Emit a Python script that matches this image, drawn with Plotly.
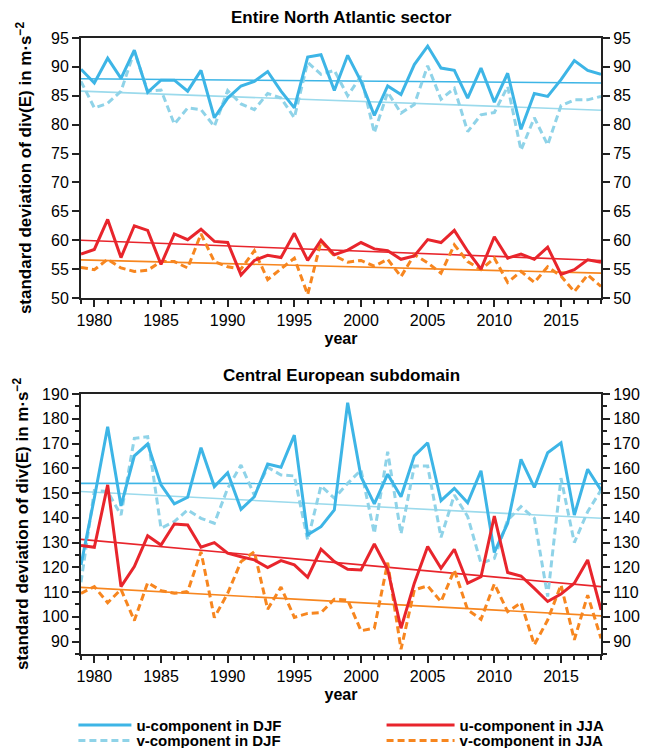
import plotly.graph_objects as go

# ---------------- data ----------------
years = list(range(1979, 2019))
x_ticks = [1980, 1985, 1990, 1995, 2000, 2005, 2010, 2015]

# Entire North Atlantic sector
na_u_djf = [89.6, 87.2, 91.5, 88.0, 92.9, 85.6, 87.7, 87.7, 85.8, 89.4, 81.2, 84.6, 86.7, 87.5,
            89.2, 85.8, 82.9, 91.7, 92.1, 85.9, 92.0, 87.5, 81.6, 86.7, 85.2, 90.4, 93.6, 89.8,
            89.4, 84.6, 89.8, 83.9, 88.9, 79.2, 85.4, 84.9, 87.8, 91.1, 89.4, 88.7]
na_v_djf = [87.5, 82.9, 83.7, 85.8, 92.7, 85.8, 86.0, 80.1, 82.9, 82.6, 79.7, 85.9, 83.6, 82.6,
            85.4, 84.6, 81.2, 90.8, 88.7, 89.4, 85.0, 88.4, 78.6, 85.6, 82.0, 83.5, 90.2, 84.4,
            86.3, 78.8, 81.7, 82.1, 86.6, 75.6, 81.2, 76.5, 83.3, 84.3, 84.3, 84.9]
na_u_jja = [57.6, 58.4, 63.6, 57.0, 62.5, 61.7, 55.8, 61.1, 60.1, 61.9, 59.8, 59.6, 54.0, 56.5,
            57.4, 57.0, 61.2, 56.5, 60.0, 57.5, 58.3, 59.6, 58.5, 58.2, 56.7, 57.3, 60.1, 59.6,
            61.7, 58.1, 55.0, 60.6, 56.9, 57.6, 56.7, 58.8, 54.1, 54.9, 56.6, 56.2]
na_v_jja = [55.3, 54.9, 56.7, 55.2, 54.6, 54.8, 56.3, 56.3, 55.2, 61.1, 56.3, 55.4, 55.0, 58.2,
            53.2, 55.0, 56.9, 50.6, 59.8, 57.3, 56.2, 56.5, 55.5, 56.7, 53.7, 57.5, 56.1, 54.3,
            59.2, 56.3, 54.9, 56.9, 52.7, 54.6, 52.7, 55.4, 53.8, 51.1, 54.0, 52.0]
# linear trend end values (1979, 2018)
na_trend_u_djf = [87.95, 87.2]
na_trend_v_djf = [85.8, 82.5]
na_trend_u_jja = [60.0, 56.5]
na_trend_v_jja = [56.6, 54.3]

# Central European subdomain
ce_u_djf = [121.0, 148.0, 176.8, 144.8, 165.0, 169.8, 153.3, 145.6, 148.3, 168.3, 152.6, 158.2,
            143.4, 148.5, 161.7, 160.4, 173.4, 133.1, 136.4, 143.2, 186.5, 156.6, 145.6, 157.6,
            148.5, 165.0, 170.3, 146.9, 151.9, 146.1, 159.0, 126.0, 137.8, 163.6, 152.3, 166.3,
            170.3, 141.1, 159.6, 151.2]
ce_v_djf = [114.0, 151.0, 150.6, 141.1, 172.1, 172.8, 135.8, 138.5, 143.2, 139.8, 137.8, 151.9,
            161.3, 149.2, 160.4, 157.3, 156.9, 131.0, 152.9, 147.9, 153.9, 159.3, 133.7, 166.7,
            133.5, 160.9, 160.9, 132.1, 149.2, 140.5, 121.6, 123.6, 139.1, 144.5, 139.8, 108.2,
            156.0, 130.0, 142.5, 151.2]
ce_u_jja = [128.8, 128.1, 153.3, 112.2, 120.3, 132.7, 129.0, 137.5, 137.1, 128.1, 130.0, 125.7,
            124.3, 123.0, 119.9, 122.7, 121.0, 116.0, 127.3, 122.3, 119.2, 118.9, 129.4, 119.2,
            95.4, 113.6, 128.4, 119.6, 127.3, 113.6, 116.2, 140.7, 117.9, 116.5, 111.5, 106.2,
            109.2, 113.6, 123.0, 102.8]
ce_v_jja = [109.5, 112.2, 105.7, 111.1, 98.5, 113.8, 110.6, 109.5, 110.2, 126.3, 99.7, 109.5,
            122.3, 126.3, 103.1, 112.0, 99.8, 101.4, 101.7, 107.1, 106.8, 94.4, 95.4, 121.9,
            86.9, 110.9, 112.5, 106.1, 118.9, 102.8, 99.0, 113.3, 102.1, 105.7, 88.7, 98.7,
            112.9, 90.7, 108.8, 91.3]
ce_trend_u_djf = [153.9, 153.8]
ce_trend_v_djf = [150.6, 139.8]
ce_trend_u_jja = [131.3, 112.2]
ce_trend_v_jja = [111.9, 100.4]

trend_years = [years[0], years[-1]]

series_names = ["u-component in DJF", "v-component in DJF", "u-component in JJA", "v-component in JJA"]
panel_titles = ["Entire North Atlantic sector", "Central European subdomain"]
y_title = "standard deviation of div(E) in m·s<sup>−2</sup>"

# ---------------- style ----------------
FONT = "Liberation Sans, Arial, Helvetica, sans-serif"
C_UDJF = "#3db5e6"
C_VDJF = "#8fd3e8"
C_UJJA = "#e8252c"
C_VJJA = "#f7861f"
C_TVDJF = "#9bdaec"
AX = "#222222"
DASH = "7px,4px"

fig = go.Figure()


def add_panel(xa, ya, u_djf, v_djf, u_jja, v_jja, t_udjf, t_vdjf, t_ujja, t_vjja, show):
    # trend lines
    for t, c in [(t_udjf, C_UDJF), (t_vdjf, C_TVDJF), (t_ujja, C_UJJA), (t_vjja, C_VJJA)]:
        fig.add_trace(go.Scatter(x=trend_years, y=t, mode="lines", xaxis=xa, yaxis=ya,
                                 line=dict(color=c, width=1.6), showlegend=False, hoverinfo="skip"))
    specs = [
        (v_djf, C_VDJF, DASH, series_names[1], "legend2"),
        (u_djf, C_UDJF, "solid", series_names[0], "legend"),
        (v_jja, C_VJJA, DASH, series_names[3], "legend4"),
        (u_jja, C_UJJA, "solid", series_names[2], "legend3"),
    ]
    for vals, c, d, name, lg in specs:
        fig.add_trace(go.Scatter(x=years, y=vals, mode="lines", xaxis=xa, yaxis=ya, name=name,
                                 line=dict(color=c, width=3, dash=d), showlegend=show,
                                 legend=lg))


add_panel("x", "y", na_u_djf, na_v_djf, na_u_jja, na_v_jja,
          na_trend_u_djf, na_trend_v_djf, na_trend_u_jja, na_trend_v_jja, True)
add_panel("x2", "y2", ce_u_djf, ce_v_djf, ce_u_jja, ce_v_jja,
          ce_trend_u_djf, ce_trend_v_djf, ce_trend_u_jja, ce_trend_v_jja, False)

top_range = [50, 95]
bot_range = [85, 190]

# invisible traces so the right-hand mirror axes are drawn
fig.add_trace(go.Scatter(x=[years[0]], y=[top_range[0]], xaxis="x", yaxis="y3", mode="markers",
                         marker=dict(opacity=0), showlegend=False, hoverinfo="skip"))
fig.add_trace(go.Scatter(x=[years[0]], y=[bot_range[0]], xaxis="x2", yaxis="y4", mode="markers",
                         marker=dict(opacity=0), showlegend=False, hoverinfo="skip"))

tickfont = dict(family=FONT, size=16, color="black")
titlefont = dict(family=FONT, size=16, color="black", weight="bold")
ytitlefont = dict(family=FONT, size=17, color="black", weight="bold")
legfont = dict(family=FONT, size=15, color="black", weight="bold")


def xaxis(domain_anchor):
    return dict(anchor=domain_anchor, domain=[0, 1], range=[years[0], years[-1]],
                tickmode="array", tickvals=x_ticks, ticks="outside", ticklen=7, tickwidth=1.5,
                tickcolor=AX, minor=dict(tick0=years[0], dtick=1, ticks="outside", ticklen=4,
                                         tickwidth=1.5, tickcolor=AX),
                showline=True, linewidth=2, linecolor=AX, mirror=True, showgrid=False,
                zeroline=False, tickfont=tickfont,
                title=dict(text="year", font=titlefont, standoff=5))


def yaxis(domain, rng, dtick, minor, side="left", overlay=None, title=None, standoff=10):
    d = dict(domain=domain, range=rng, dtick=dtick, tick0=0, ticks="outside", ticklen=7,
             tickwidth=1.5, tickcolor=AX, showline=True, linewidth=2, linecolor=AX,
             showgrid=False, zeroline=False, tickfont=tickfont, side=side)
    if minor:
        d["minor"] = dict(dtick=minor, ticks="outside", ticklen=4, tickwidth=1.5, tickcolor=AX)
    if overlay:
        d["overlaying"] = overlay
    if title:
        d["title"] = dict(text=title, font=ytitlefont, standoff=standoff)
    return d


def legend(x, y, itemwidth):
    return dict(orientation="v", x=x, xanchor="left", y=y, yanchor="top", itemwidth=itemwidth,
                tracegroupgap=0, font=legfont, bgcolor="rgba(0,0,0,0)")


top_dom = [0.5779, 1.0]
bot_dom = [0.0, 0.4221]
row1_y = -0.0890
row2_y = -0.1140

fig.update_layout(
    width=646, height=748,
    margin=dict(l=80.7, r=45, t=38, b=94, autoexpand=False),
    paper_bgcolor="white", plot_bgcolor="white",
    font=dict(family=FONT, size=16, color="black"),
    xaxis=xaxis("y"),
    xaxis2=xaxis("y2"),
    yaxis=yaxis(top_dom, top_range, 5, None, title=y_title, standoff=15),
    yaxis2=yaxis(bot_dom, bot_range, 10, 5, title=y_title, standoff=9),
    yaxis3=dict(yaxis(top_dom, top_range, 5, None, side="right", overlay="y"), anchor="x"),
    yaxis4=dict(yaxis(bot_dom, bot_range, 10, 5, side="right", overlay="y2"), anchor="x2"),
    legend=legend(-0.0146, row1_y, 53),
    legend2=legend(-0.0146, row2_y, 53),
    legend3=legend(0.578, row1_y, 68),
    legend4=legend(0.578, row2_y, 68),
    annotations=[
        dict(text=panel_titles[0], xref="paper", yref="paper", x=0.5, y=(654 - 18) / 616,
             xanchor="center", yanchor="middle", showarrow=False,
             font=dict(family=FONT, size=17, color="black", weight="bold")),
        dict(text=panel_titles[1], xref="paper", yref="paper", x=0.5, y=(654 - 375) / 616,
             xanchor="center", yanchor="middle", showarrow=False,
             font=dict(family=FONT, size=17, color="black", weight="bold")),
    ],
)

fig.write_html("out.html")
